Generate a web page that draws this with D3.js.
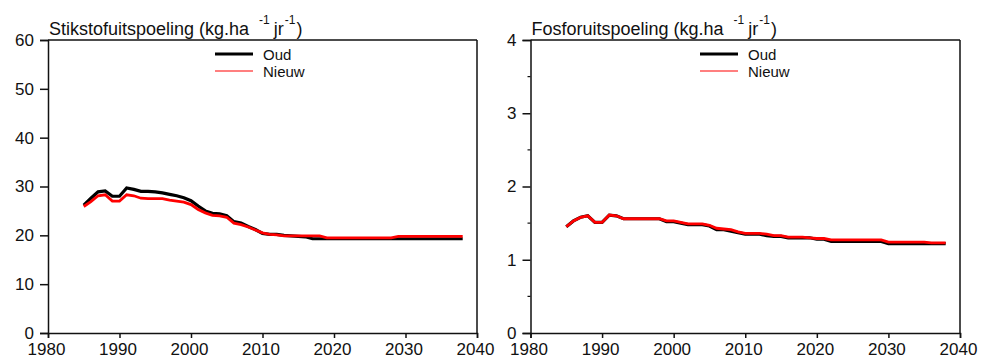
<!DOCTYPE html>
<html>
<head>
<meta charset="utf-8">
<script src="https://cdn.jsdelivr.net/npm/d3@7"></script>
<style>
  html, body { margin: 0; padding: 0; background: #fff; }
  svg { display: block; font-family: "Liberation Sans", Arial, sans-serif; }
</style>
</head>
<body>
<svg id="chart" width="981" height="360"></svg>
<script>
// Jaren 1985 t/m 2038
const years = d3.range(1985, 2039);

// Stikstofuitspoeling (kg/ha/jr)
const nOud = [
  26.2, 27.6, 28.9, 29.1, 28.0, 28.0, 29.7, 29.4, 29.0, 29.0,
  28.9, 28.7, 28.4, 28.1, 27.7, 27.1, 26.0, 25.0, 24.5, 24.4,
  24.0, 22.8, 22.5, 21.8, 21.2, 20.4, 20.2, 20.2, 20.0, 19.9,
  19.8, 19.7, 19.3, 19.3, 19.3, 19.3, 19.3, 19.3, 19.3, 19.3,
  19.3, 19.3, 19.3, 19.3, 19.3, 19.3, 19.3, 19.3, 19.3, 19.3,
  19.3, 19.3, 19.3, 19.3
];
const nNieuw = [
  25.9, 26.9, 28.1, 28.3, 27.0, 27.0, 28.3, 28.1, 27.6, 27.5,
  27.5, 27.5, 27.2, 27.0, 26.8, 26.3, 25.3, 24.6, 24.1, 24.0,
  23.7, 22.5, 22.2, 21.7, 21.1, 20.5, 20.2, 20.1, 19.9, 19.9,
  19.9, 19.9, 19.9, 19.9, 19.5, 19.5, 19.5, 19.5, 19.5, 19.5,
  19.5, 19.5, 19.5, 19.5, 19.8, 19.8, 19.8, 19.8, 19.8, 19.8,
  19.8, 19.8, 19.8, 19.8
];

// Fosforuitspoeling (kg/ha/jr)
const pOud = [
  1.45, 1.53, 1.58, 1.60, 1.51, 1.51, 1.61, 1.60, 1.56, 1.56,
  1.56, 1.56, 1.56, 1.56, 1.52, 1.52, 1.50, 1.48, 1.48, 1.48,
  1.46, 1.41, 1.41, 1.39, 1.37, 1.35, 1.35, 1.35, 1.33, 1.32,
  1.32, 1.30, 1.30, 1.30, 1.30, 1.28, 1.28, 1.25, 1.25, 1.25,
  1.25, 1.25, 1.25, 1.25, 1.25, 1.22, 1.22, 1.22, 1.22, 1.22,
  1.22, 1.22, 1.22, 1.22
];
const pNieuw = [
  1.45, 1.53, 1.58, 1.60, 1.51, 1.51, 1.61, 1.60, 1.56, 1.56,
  1.56, 1.56, 1.56, 1.56, 1.53, 1.53, 1.51, 1.49, 1.49, 1.49,
  1.47, 1.43, 1.42, 1.41, 1.38, 1.36, 1.36, 1.36, 1.35, 1.33,
  1.33, 1.31, 1.31, 1.31, 1.30, 1.29, 1.29, 1.27, 1.27, 1.27,
  1.27, 1.27, 1.27, 1.27, 1.27, 1.24, 1.24, 1.24, 1.24, 1.24,
  1.24, 1.23, 1.23, 1.23
];

const xTicks = [1980, 1990, 2000, 2010, 2020, 2030, 2040];
const nTicks = [0, 10, 20, 30, 40, 50, 60];
const pTicks = [0, 1, 2, 3, 4];
const pMinorTicks = [0.5, 1.5, 2.5, 3.5];
const seriesNames = ["Oud", "Nieuw"];

const svg = d3.select("#chart");
const ink = "#111";

function panel(opts) {
  const { left, right, top, bottom, yMax, yTicks, yMinor, oud, nieuw, title, legendX } = opts;
  const x = d3.scaleLinear().domain([1980, 2040]).range([left, right]);
  const y = d3.scaleLinear().domain([0, yMax]).range([bottom, top]);
  const g = svg.append("g");

  // frame: top and right edges
  g.append("line").attr("x1", left).attr("x2", right).attr("y1", top).attr("y2", top)
    .attr("stroke", ink).attr("stroke-width", 1.5);
  g.append("line").attr("x1", right).attr("x2", right).attr("y1", top).attr("y2", bottom)
    .attr("stroke", ink).attr("stroke-width", 1.5);

  const xAxis = g.append("g").attr("transform", `translate(0,${bottom})`)
    .call(d3.axisBottom(x).tickValues(xTicks).tickFormat(d3.format("d")).tickSize(5).tickPadding(5));
  const yAxis = g.append("g").attr("transform", `translate(${left},0)`)
    .call(d3.axisLeft(y).tickValues(yTicks).tickFormat(d3.format("d")).tickSize(8).tickPadding(6));
  [xAxis, yAxis].forEach(a => {
    a.select(".domain").attr("stroke", ink).attr("stroke-width", 1.5);
    a.selectAll(".tick line").attr("stroke", ink).attr("stroke-width", 1.5);
    a.selectAll(".tick text").attr("fill", ink).style("font-size", "17px")
      .style("font-family", "'Liberation Sans', Arial, sans-serif");
  });
  xAxis.selectAll(".tick text").attr("dx", -2);

  if (yMinor) {
    g.append("g").selectAll("line").data(yMinor).join("line")
      .attr("x1", left - 3).attr("x2", left).attr("y1", d => y(d)).attr("y2", d => y(d))
      .attr("stroke", ink).attr("stroke-width", 1.2);
  }

  const line = d3.line().x((d, i) => x(years[i])).y(d => y(d));
  g.append("path").datum(oud).attr("d", line).attr("fill", "none")
    .attr("stroke", "#000").attr("stroke-width", 3.2);
  g.append("path").datum(nieuw).attr("d", line).attr("fill", "none")
    .attr("stroke", "#ff0000").attr("stroke-width", 2.8);

  // title with superscripts
  const t = g.append("text").attr("x", left + 1).attr("y", top - 5)
    .attr("fill", ink).style("font-size", "18px");
  t.append("tspan").text(title + " (kg.ha");
  t.append("tspan").attr("dx", 10).attr("dy", -11).style("font-size", "12px").text("-1");
  t.append("tspan").attr("dx", 4).attr("dy", 11).text("jr");
  t.append("tspan").attr("dx", 1).attr("dy", -11).style("font-size", "12px").text("-1");
  t.append("tspan").attr("dx", 1).attr("dy", 11).text(")");

  // legend
  const lg = g.append("g");
  const rows = [
    { name: seriesNames[0], color: "#000", w: 3.2, yy: top + 14 },
    { name: seriesNames[1], color: "#ff0000", w: 1.2, yy: top + 31 }
  ];
  rows.forEach(r => {
    lg.append("line").attr("x1", legendX).attr("x2", legendX + 38)
      .attr("y1", r.yy).attr("y2", r.yy).attr("stroke", r.color).attr("stroke-width", r.w);
    lg.append("text").attr("x", legendX + 48).attr("y", r.yy + 5.5)
      .attr("fill", ink).style("font-size", "15px").text(r.name);
  });
}

panel({ left: 48, right: 477, top: 40, bottom: 333, yMax: 60, yTicks: nTicks, yMinor: null,
        oud: nOud, nieuw: nNieuw, title: "Stikstofuitspoeling", legendX: 215 });
panel({ left: 530.5, right: 960, top: 40, bottom: 333, yMax: 4, yTicks: pTicks, yMinor: pMinorTicks,
        oud: pOud, nieuw: pNieuw, title: "Fosforuitspoeling", legendX: 700 });
</script>
</body>
</html>
